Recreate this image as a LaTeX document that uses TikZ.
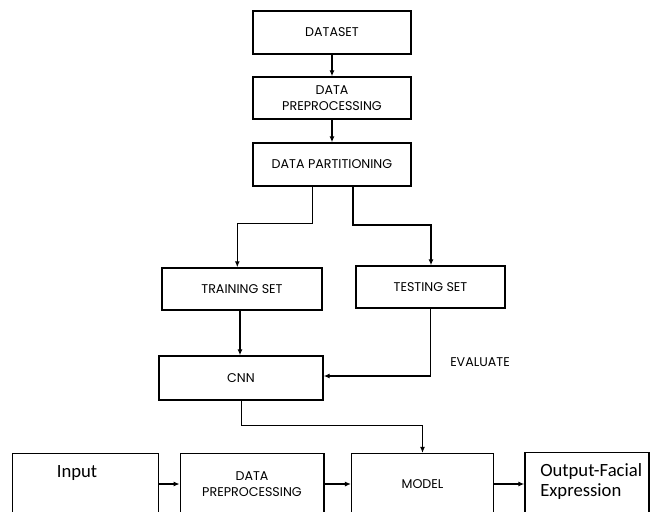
\documentclass[tikz,border=0pt]{standalone}
\usepackage{fontspec}
\setmainfont{Poppins}
\newfontfamily\calfont{Carlito}
\usetikzlibrary{arrows.meta,calc}
\begin{document}
\begin{tikzpicture}[x=0.75pt,y=-0.75pt,
  box/.style={draw=black,line width=1.1pt,fill=white,inner sep=0pt,align=center,
    font=\fontsize{9.5}{12}\selectfont},
  arr/.style={draw=black,line width=1pt,-{Latex[length=4.5pt,width=3.8pt]}},
  lbl/.style={inner sep=0pt,font=\fontsize{9.5}{12}\selectfont},
  big/.style={inner sep=0pt,font=\calfont\fontsize{14}{15}\selectfont,align=left}]
\useasboundingbox (0,0) rectangle (650,511);
\clip (0,0) rectangle (650,511);
% top column
\node[box,minimum width=118.5pt,minimum height=32.25pt] (dataset) at (332,32.5) {DATASET};
\node[box,minimum width=118.5pt,minimum height=31.5pt] (prep1) at (332,98) {DATA\\PREPROCESSING};
\node[box,minimum width=118.5pt,minimum height=32.25pt] (part) at (332,164.5) {DATA PARTITIONING};
\node[box,minimum width=120pt,minimum height=31.5pt] (train) at (242,289) {TRAINING SET};
\node[box,minimum width=111.75pt,minimum height=31.5pt] (test) at (430.5,287) {TESTING SET};
\node[box,minimum width=123pt,minimum height=33pt] (cnn) at (241,378) {CNN};
\node[lbl] (evaluate) at (480,361.7) {EVALUATE};
% bottom row
\node[box,minimum width=109.2pt,minimum height=45.5pt] (inputbox) at (85.5,484) {};
\node[box,minimum width=107.8pt,minimum height=45.5pt] (prep2) at (252.2,484) {};
\node[box,minimum width=106.2pt,minimum height=45.5pt] (model) at (422.5,484) {MODEL};
\node[box,minimum width=93pt,minimum height=47pt] (output) at (587,484) {};
\node[big] (inputlbl) at (77,473) {Input};
\node[lbl,align=center] (prep2lbl) at (252,484) {DATA\\PREPROCESSING};
\node[big,anchor=west] (outputlbl) at (540,481.7) {Output-Facial\\Expression};
% connectors
\draw[arr] (dataset) -- (prep1);
\draw[arr] (prep1) -- (part);
\draw[arr] ($(part.south)+(-19.3,0)$) |- ($(train.north)+(-4.7,-44)$) -- ($(train.north)+(-4.7,0)$);
\draw[arr] ($(part.south)+(21,0)$) |- ($(test.north)+(0.5,-40.3)$) -- ($(test.north)+(0.5,0)$);
\draw[arr] ($(train.south)+(-2,0)$) -- ($(cnn.north)+(-1,0)$);
\draw[arr] (test.south) |- ($(cnn.east)+(0,-2)$);
\draw[arr] ($(cnn.south)+(0.7,0)$) -- ++(0,24.5) -| (model.north);
\draw[arr] (inputbox) -- (prep2);
\draw[arr] (prep2) -- (model);
\draw[arr] (model) -- (output);
\end{tikzpicture}
\end{document}
